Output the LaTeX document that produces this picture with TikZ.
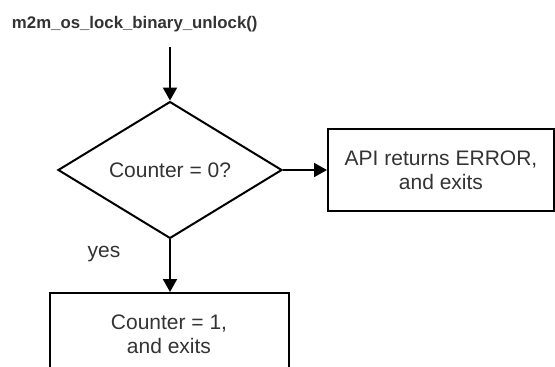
\documentclass[tikz,border=0pt]{standalone}
\usepackage{fontspec}
\setmainfont{Liberation Sans}
\usetikzlibrary{shapes.geometric,arrows.meta}
\begin{document}
\begin{tikzpicture}[x=1pt,y=-1pt,line width=2pt,>={Triangle[length=13pt,width=14pt]},
  txt/.style={text=black!80,font=\fontsize{21}{24}\selectfont},
  stepbox/.style={draw,txt,align=center,inner sep=0pt,minimum height=82pt},
  test/.style={draw,txt,diamond,inner sep=0pt,minimum width=224pt,minimum height=132pt}]
\useasboundingbox (0,0) rectangle (555,367);
\node[anchor=base west,inner sep=0pt,text=black!80,font=\fontsize{16.8}{20}\selectfont\bfseries] (title) at (11,28) {m2m\_os\_lock\_binary\_unlock()};
\coordinate (entry) at (170,47);
\node[test] (check) at (170,170) {Counter = 0?};
\node[stepbox,minimum width=226pt] (error) at (441,170) {API returns ERROR,\\and exits};
\node[stepbox,minimum width=239pt] (done) at (169,334) {Counter = 1,\\and exits};
\node[txt,anchor=base,inner sep=0pt] (yes) at (104,257) {yes};

\draw[->] (entry) -- (check);
\draw[->] (check) -- (error);
\draw[->] (check.south) -- (check.south |- done.north);
\end{tikzpicture}
\end{document}
